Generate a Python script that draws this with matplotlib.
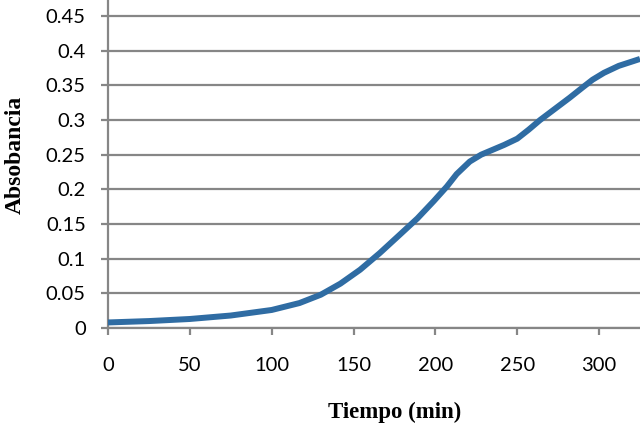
import matplotlib
matplotlib.use("Agg")
import matplotlib.pyplot as plt
import numpy as np

# values
tiempo = [0, 25, 50, 75, 100, 117, 130, 142, 154, 166, 178, 189, 199, 207,
          213, 221, 228, 235, 242, 250, 257, 264, 273, 282, 290, 296, 303,
          312, 325]
absorbancia = [0.008, 0.010, 0.013, 0.018, 0.026, 0.036, 0.048, 0.064, 0.084,
               0.108, 0.134, 0.158, 0.183, 0.204, 0.222, 0.240, 0.250, 0.257,
               0.264, 0.273, 0.286, 0.300, 0.316, 0.332, 0.347, 0.358, 0.368,
               0.378, 0.388]

x_ticks = [0, 50, 100, 150, 200, 250, 300]
y_ticks = [0, 0.05, 0.1, 0.15, 0.2, 0.25, 0.3, 0.35, 0.4, 0.45]

grid_color = "#868686"
line_color = "#2f6ca3"

fig = plt.figure(figsize=(6.4, 4.34), dpi=100)
ax = fig.add_axes([108 / 640, 1 - 328 / 434, 1 - 108 / 640, 328 / 434])

ax.plot(tiempo, absorbancia, color=line_color, lw=4.3, solid_capstyle="butt",
        solid_joinstyle="round", zorder=3)

ax.set_xlim(0, 325)
ax.set_ylim(0, 0.473)
ax.set_xticks(x_ticks)
ax.set_yticks(y_ticks)
ax.set_yticklabels(["0", "0.05", "0.1", "0.15", "0.2", "0.25", "0.3", "0.35",
                    "0.4", "0.45"])

ax.grid(axis="y", color=grid_color, lw=1.6, zorder=1)
for s in ["top", "right"]:
    ax.spines[s].set_visible(False)
for s in ["left", "bottom"]:
    ax.spines[s].set_color(grid_color)
    ax.spines[s].set_linewidth(1.6)
    ax.spines[s].set_zorder(2)

ax.tick_params(axis="both", color=grid_color, width=1.6, length=5,
               labelsize=14.5, labelcolor="black")
ax.tick_params(axis="x", pad=16)
ax.tick_params(axis="y", pad=11)
for lab in ax.get_xticklabels() + ax.get_yticklabels():
    lab.set_family("Lato")

fig.text(395 / 640, 1 - 412 / 434, "Tiempo (min)", ha="center", va="center",
         family="Liberation Serif", weight="bold", fontsize=16.5)
fig.text(15 / 640, 1 - 155 / 434, "Absobancia", ha="center", va="center",
         rotation=90, family="Liberation Serif", weight="bold", fontsize=17)

fig.savefig("out.png", dpi=100)
